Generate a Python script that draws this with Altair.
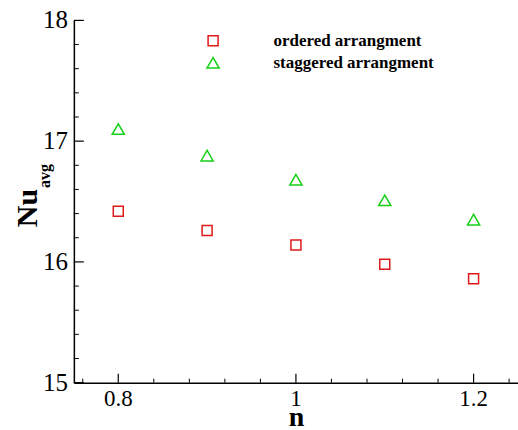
import altair as alt
import pandas as pd

n_vals = [0.8, 0.9, 1.0, 1.1, 1.2]
ordered = [16.42, 16.26, 16.14, 15.98, 15.86]
staggered = [17.10, 16.88, 16.68, 16.51, 16.35]
series_names = ["ordered arrangment", "staggered arrangment"]

y_major = [15, 16, 17, 18]
y_labels = ["15", "16", "17", "18"]
y_minor = [15.2, 15.4, 15.6, 15.8, 16.2, 16.4, 16.6, 16.8, 17.2, 17.4, 17.6, 17.8]
x_major = [0.8, 1.0, 1.2]
x_labels = ["0.8", "1", "1.2"]
x_minor = [0.76, 0.84, 0.88, 0.92, 0.96, 1.04, 1.08, 1.12, 1.16, 1.24]

rows = []
for xv, a, b in zip(n_vals, ordered, staggered):
    rows.append({"n": xv, "Nu": a, "series": series_names[0]})
    rows.append({"n": xv, "Nu": b, "series": series_names[1]})
df = pd.DataFrame(rows)

W, H = 445, 363
SERIF = "Liberation Serif"

xscale = alt.Scale(domain=[0.75, 1.25], nice=False, zero=False)
yscale = alt.Scale(domain=[15, 18], nice=False, zero=False)

xaxis = alt.Axis(values=x_major, title="n", ticks=False, grid=False, labels=False,
                 titleFont=SERIF, titleFontSize=28, titleFontWeight="bold", titleColor="black",
                 titleBaseline="alphabetic", titleY=43,
                 domainColor="black", domainWidth=1.5)
yaxis = alt.Axis(values=y_major, title=None, ticks=False, grid=False, labels=False,
                 domainColor="black", domainWidth=1.5)

points = alt.Chart(df).mark_point(filled=False, strokeWidth=1.5, opacity=1).encode(
    x=alt.X("n:Q", scale=xscale, axis=xaxis),
    y=alt.Y("Nu:Q", scale=yscale, axis=yaxis),
    color=alt.Color("series:N", scale=alt.Scale(domain=series_names, range=["#e01818", "#18d018"]),
                    legend=alt.Legend(title=None, orient="none", legendX=131, legendY=12,
                                      labelFont=SERIF, labelFontSize=17, labelFontWeight="bold",
                                      labelColor="black", labelOffset=52, rowPadding=4,
                                      labelLimit=0,
                                      symbolStrokeWidth=1.5, symbolSize=130, padding=0)),
    shape=alt.Shape("series:N", scale=alt.Scale(domain=series_names, range=["square", "triangle-up"])),
    size=alt.Size("series:N", scale=alt.Scale(domain=series_names, range=[100, 150]), legend=None),
)

ymaj = alt.Chart(pd.DataFrame({"v": y_major})).mark_rule(color="black", strokeWidth=1.2).encode(
    y=alt.Y("v:Q", scale=yscale, axis=yaxis), x=alt.value(0), x2=alt.value(10))
ymin = alt.Chart(pd.DataFrame({"v": y_minor})).mark_rule(color="black", strokeWidth=1).encode(
    y=alt.Y("v:Q", scale=yscale, axis=yaxis), x=alt.value(0), x2=alt.value(5))
xmaj = alt.Chart(pd.DataFrame({"v": x_major})).mark_rule(color="black", strokeWidth=1.2).encode(
    x=alt.X("v:Q", scale=xscale, axis=xaxis), y=alt.value(H), y2=alt.value(H - 9))
xmin = alt.Chart(pd.DataFrame({"v": x_minor})).mark_rule(color="black", strokeWidth=1).encode(
    x=alt.X("v:Q", scale=xscale, axis=xaxis), y=alt.value(H), y2=alt.value(H - 4))

ylab = alt.Chart(pd.DataFrame({"v": y_major, "t": y_labels})).mark_text(
    font=SERIF, fontSize=25, fontWeight="normal", align="right", baseline="middle", color="black", dx=-6
).encode(y=alt.Y("v:Q", scale=yscale, axis=yaxis), x=alt.value(0), text="t:N")
xlab = alt.Chart(pd.DataFrame({"v": x_major, "t": x_labels})).mark_text(
    font=SERIF, fontSize=23, fontWeight="normal", align="center", baseline="top", color="black", dy=5
).encode(x=alt.X("v:Q", scale=xscale, axis=xaxis), y=alt.value(H), text="t:N")

nu = alt.Chart(pd.DataFrame({"t": ["Nu"]})).mark_text(
    font=SERIF, fontSize=30, fontWeight="bold", angle=270, align="center", baseline="middle", color="black"
).encode(text="t:N", x=alt.value(-46), y=alt.value(188))
avg = alt.Chart(pd.DataFrame({"t": ["avg"]})).mark_text(
    font=SERIF, fontSize=16, fontWeight="bold", angle=270, align="center", baseline="middle", color="black"
).encode(text="t:N", x=alt.value(-29), y=alt.value(156))

chart = alt.layer(points, ymaj, ymin, xmaj, xmin, ylab, xlab, nu, avg).resolve_scale(
    color="independent", shape="independent", size="independent"
).properties(
    width=W, height=H, autosize=alt.AutoSizeParams(type="none"),
    padding={"left": 74, "top": 20, "right": 0, "bottom": 47}, background="white"
).configure_view(stroke=None)

chart.save("out.html", embed_options={"renderer": "svg", "actions": False})
